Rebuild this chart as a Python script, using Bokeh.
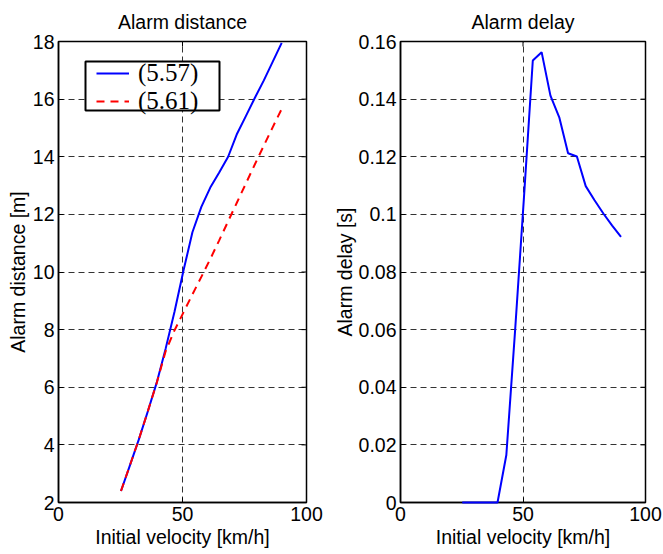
import math
from bokeh.plotting import figure
from bokeh.models import (FixedTicker, Title, Legend, LegendItem,
                          BoxAnnotation, Range1d)
from bokeh.layouts import row
from bokeh.embed import file_html
from bokeh.resources import INLINE

# ---- data ----
velocity = [25.2, 28.8, 32.4, 36.0, 39.6, 43.2, 46.8, 50.4, 54.0, 57.6,
            61.2, 64.8, 68.4, 72.0, 75.6, 79.2, 82.8, 86.4, 90.0]
distance_557 = [2.4, 3.29, 4.19, 5.16, 6.16, 7.34, 8.63, 10.05, 11.38, 12.26,
                12.93, 13.45, 14.0, 14.8, 15.42, 16.05, 16.65, 17.3, 17.95]
distance_561 = [2.4, 3.29, 4.19, 5.16, 6.15, 7.25, 7.98, 8.6, 9.22, 9.83,
                10.45, 11.1, 11.76, 12.42, 13.08, 13.74, 14.39, 15.03, 15.66]
delay = [0.0, 0.0, 0.0, 0.0, 0.0, 0.0165, 0.06, 0.106, 0.1534, 0.1563,
         0.1412, 0.1337, 0.1212, 0.1201, 0.1098, 0.1049, 0.1003, 0.0961, 0.0922]

x_ticks = [0, 50, 100]
dist_ticks = [2, 4, 6, 8, 10, 12, 14, 16, 18]
delay_ticks = [0, 0.02, 0.04, 0.06, 0.08, 0.1, 0.12, 0.14, 0.16]
delay_tick_labels = ["0", "0.02", "0.04", "0.06", "0.08", "0.1", "0.12", "0.14", "0.16"]
legend_labels = ["(5.57)", "(5.61)"]

FONT = "Liberation Sans"
FS = "19.5px"
GRID_COLOR = "#333333"


def style_axis(ax):
    ax.major_tick_in = 5
    ax.major_tick_out = 0
    ax.minor_tick_line_color = None
    ax.axis_line_color = "black"
    ax.axis_line_width = 1.5
    ax.major_tick_line_color = "black"
    ax.major_tick_line_width = 1
    ax.major_label_text_font = FONT
    ax.major_label_text_font_size = FS
    ax.major_label_text_color = "black"
    ax.major_label_standoff = 4
    ax.axis_label_text_font = FONT
    ax.axis_label_text_font_size = FS
    ax.axis_label_text_font_style = "normal"
    ax.axis_label_text_color = "black"


def make_fig(width, yr, yticks, ylabels, title, border_left, border_right, label_standoff):
    p = figure(width=width, height=554, x_range=Range1d(0, 100), y_range=Range1d(*yr),
               output_backend="svg", toolbar_location=None, title=None,
               min_border_left=border_left, min_border_right=border_right,
               min_border_top=41, min_border_bottom=52)
    p.outline_line_color = "black"
    p.outline_line_width = 1.5
    p.background_fill_color = "white"
    p.border_fill_color = "white"

    p.xaxis.ticker = FixedTicker(ticks=x_ticks)
    p.yaxis.ticker = FixedTicker(ticks=yticks)
    if ylabels is not None:
        p.yaxis.major_label_overrides = {t: l for t, l in zip(yticks, ylabels)}
    for ax in p.xaxis + p.yaxis:
        style_axis(ax)
    p.xaxis.axis_label = "Initial velocity [km/h]"
    p.xaxis.axis_label_standoff = 2
    p.yaxis.axis_label_standoff = label_standoff

    # inward ticks on the top and right edges of the box
    p.ray(x=x_ticks, y=[yr[1]] * len(x_ticks), length=5, length_units="screen",
          angle=-math.pi / 2, line_color="black", line_width=1)
    p.ray(x=[100] * len(yticks), y=yticks, length=5, length_units="screen",
          angle=math.pi, line_color="black", line_width=1)

    t = Title(text=title, align="center", vertical_align="top",
              text_font=FONT, text_font_size=FS,
              text_font_style="normal", text_color="black", standoff=14,
              text_line_height=1.0)
    p.add_layout(t, "above")

    p.xgrid.ticker = FixedTicker(ticks=[50])
    p.ygrid.ticker = FixedTicker(ticks=yticks)
    for g in (p.xgrid, p.ygrid):
        g.grid_line_color = GRID_COLOR
        g.grid_line_dash = "6 4"
        g.grid_line_width = 1
    return p


# ---- left: alarm distance ----
p1 = make_fig(330, (2, 18), dist_ticks, None, "Alarm distance", 58, 24, 1)
p1.yaxis[0].axis_label = "Alarm distance [m]"
r_blue = p1.line(velocity, distance_557, line_color="#0000ff", line_width=2)
r_red = p1.line(velocity, distance_561, line_color="#ff0000", line_width=2,
                line_dash="8 6")

box = BoxAnnotation(left=27, right=161, bottom=392, top=441,
                    left_units="screen", right_units="screen",
                    bottom_units="screen", top_units="screen",
                    fill_color="white", fill_alpha=1.0,
                    line_color="black", line_alpha=1.0, line_width=2)
p1.add_layout(box)

legend = Legend(items=[LegendItem(label=legend_labels[0], renderers=[r_blue]),
                       LegendItem(label=legend_labels[1], renderers=[r_red])],
                location=(38, 387), padding=0, margin=0, spacing=-13,
                glyph_width=33, glyph_height=20, label_standoff=9,
                border_line_alpha=0, background_fill_alpha=0,
                label_text_font="Liberation Serif", label_text_font_size="25px",
                label_text_color="black")
p1.add_layout(legend)

# ---- right: alarm delay ----
p2 = make_fig(333, (0, 0.16), delay_ticks, delay_tick_labels, "Alarm delay", 68, 18, 0)
p2.yaxis[0].axis_label = "Alarm delay [s]"
p2.line(velocity, delay, line_color="#0000ff", line_width=2, level="overlay")

layout = row(p1, p2)
open("out.html", "w").write(file_html(layout, INLINE))
